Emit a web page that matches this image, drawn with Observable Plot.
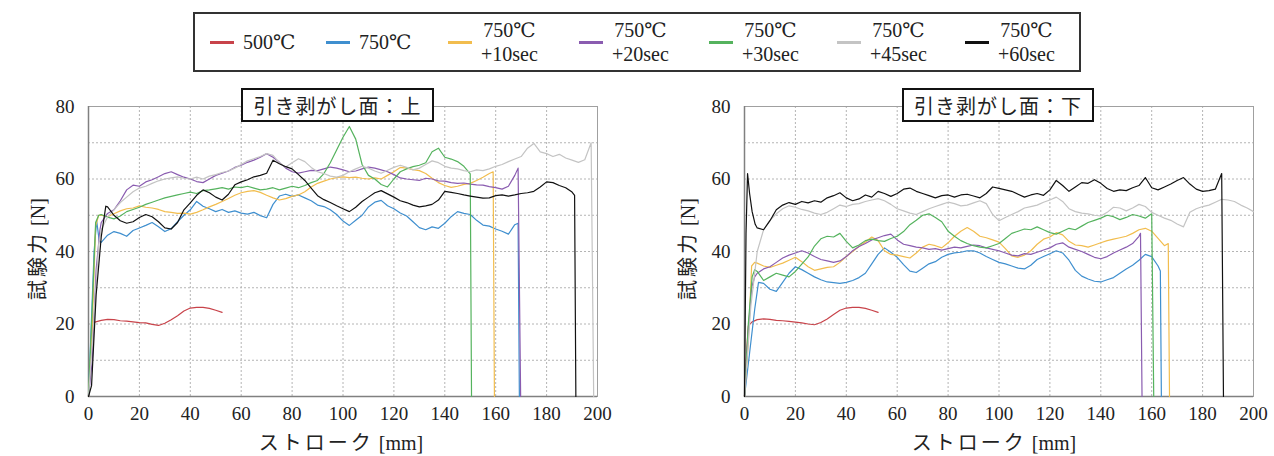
<!DOCTYPE html>
<html><head><meta charset="utf-8">
<script src="https://cdn.jsdelivr.net/npm/d3@7"></script>
<script src="https://cdn.jsdelivr.net/npm/@observablehq/plot@0.6"></script>
<style>
body{margin:0;background:#fff;}
#wrap{position:relative;width:1274px;height:456px;overflow:hidden;background:#fff;}
.panel{position:absolute;top:80px;}
.panel svg text{font-family:"Liberation Serif","Times New Roman","DejaVu Serif",serif;}
.legend{position:absolute;left:193px;top:12px;width:884px;height:56px;border:2px solid #333;background:#fff;
  font-family:"Liberation Serif","Times New Roman","DejaVu Serif",serif;font-size:20px;color:#222;}
.item{position:absolute;top:0;height:56px;display:flex;align-items:center;}
.sw{width:24px;height:3px;margin-right:9px;}
.lab{line-height:24px;text-align:center;}
.tbox{position:absolute;top:88px;height:30px;border:2px solid #111;background:#fff;
  font-family:"Noto Sans CJK JP",sans-serif;font-size:20px;letter-spacing:1px;color:#222;
  display:flex;align-items:center;justify-content:center;}
.xlab{position:absolute;top:431px;line-height:22px;transform:translateX(-50%);white-space:nowrap;font-size:20px;color:#222;}
.ylab{position:absolute;top:249px;line-height:22px;transform:translate(-50%,-50%) rotate(-90deg);white-space:nowrap;font-size:20px;color:#222;}
.jp{font-family:"Noto Sans CJK JP",sans-serif;letter-spacing:3px;}
.en{font-family:"Liberation Serif","Times New Roman","DejaVu Serif",serif;}
</style></head><body><div id="wrap"></div>
<script>
// ---- labels ----
const seriesNames = ["500℃","750℃","750℃ +10sec","750℃ +20sec","750℃ +30sec","750℃ +45sec","750℃ +60sec"];
const legendLine1 = ["500℃","750℃","750℃","750℃","750℃","750℃","750℃"];
const legendLine2 = ["","","+10sec","+20sec","+30sec","+45sec","+60sec"];
const seriesColors = ["#c8434a","#3f8fcf","#f2bd4e","#8a5cb0","#55b35e","#c4c4c4","#111111"];
const panelTitles = ["引き剥がし面：上","引き剥がし面：下"];
const xTicks = [0,20,40,60,80,100,120,140,160,180,200];
const yTicks = [0,20,40,60,80];
const xGrid = [20,40,60,80,100,120,140,160,180];
const yGrid = [10,20,30,40,50,60,70];

// shared stroke grid (mm)
const X = [5,7.5,10,12.5,15,17.5,20,22.5,25,27.5,30,32.5,35,37.5,40,42.5,45,47.5,50,52.5,55,57.5,60,62.5,65,67.5,70,72.5,75,77.5,80,82.5,85,87.5,90,92.5,95,97.5,100,102.5,105,107.5,110,112.5,115,117.5,120,122.5,125,127.5,130,132.5,135,137.5,140,142.5,145,147.5,150,152.5,155,157.5,160,162.5,165,167.5,170,172.5,175,177.5,180,182.5,185,187.5,190,192.5,195,197.5,200];

// ===== 引き剥がし面：上 =====
const up500Head = [[0,0],[1.5,19.5],[2.5,20.5]];
const up500 = [21.0,21.3,21.2,20.9,20.8,20.6,20.4,20.3, 19.9,19.6,20.2,21.2,22.3,23.6,24.4,24.6, 24.6,24.3,23.8,23.2];
const up500Tail = [];

const up750Head = [[0,0],[2.2,40],[3.2,48.5],[4.2,43]];
const up750 = [42.5,44.5,45.5,45.0,44.2,45.8,46.5,47.2, 48.0,46.8,45.5,46.3,48.2,50.0,51.5,53.8, 52.5,51.8,51.0,51.6,50.8,51.2,50.6,50.3,
  50.8,49.9,49.3,53.0,55.3,55.8,55.2,55.6, 54.8,54.0,52.8,52.4,51.5,50.2,48.4,47.2, 48.6,50.0,52.3,53.6,54.1,52.6,51.8,50.6,
  49.8,48.2,46.6,46.0,46.8,46.4,47.8,49.6, 51.0,50.5,50.2,48.6,47.3,47.0,46.2,45.6, 44.8,47.4];
const up750Tail = [[168.8,47.8],[169.3,0]];

const up10Head = [[0,0],[1.5,20],[2.8,47],[4,50]];
const up10 = [50.0,49.6,50.4,51.2,51.8,52.0,52.6,52.2, 52.0,51.6,51.0,50.8,50.5,50.6,50.3,50.8, 51.5,52.3,53.0,53.8,54.6,55.5,56.2,56.6,
  56.8,56.3,55.5,54.8,54.2,54.6,55.2,55.6, 56.5,57.8,58.8,59.4,60.0,60.4,60.6,60.4, 60.5,60.2,60.0,60.3,60.0,61.0,62.0,63.2,
  63.0,62.6,62.3,61.5,60.2,59.0,58.2,57.7, 58.0,58.5,58.8,59.6,60.5,61.5];
const up10Tail = [[159,62],[159.5,0]];

const up20Head = [[0,0],[1.5,10],[3,35],[4.5,46]];
const up20 = [48.0,50.5,51.5,54.0,57.0,58.3,58.0,59.2, 59.8,60.6,61.5,62.0,61.2,60.5,60.0,59.3, 59.0,60.0,61.0,61.6,62.2,63.2,63.8,64.6,
  65.2,66.0,67.0,66.0,64.6,63.0,62.0,61.6, 62.0,62.4,62.3,62.8,63.3,63.0,62.5,62.0, 62.2,62.8,63.3,63.0,62.5,62.0,61.2,60.3,
  60.0,59.8,59.6,60.2,60.0,59.5,59.4,59.0, 58.8,58.9,58.6,58.4,58.3,57.9,57.6,57.2, 58.0,61.0];
const up20Tail = [[168.8,63.0],[169.8,0]];

const up30Head = [[0,0],[1.5,25],[2.8,48],[4,50]];
const up30 = [50.2,49.5,49.0,49.8,51.0,51.6,52.2,53.0, 53.6,54.2,54.8,55.2,55.6,56.0,56.4,56.0, 56.8,57.0,57.3,57.6,57.2,57.8,57.6,58.0,
  57.5,57.0,57.2,57.6,57.0,57.5,58.0,57.6, 58.2,59.0,59.6,61.5,64.5,68.0,71.5,74.5, 71.0,64.0,61.0,60.0,58.5,57.8,60.0,62.0,
  62.8,63.4,63.8,64.5,67.5,68.5,66.0,65.5, 64.8,63.5,61.4];
const up30Tail = [[150.5,0]];

const up45Head = [[0,0],[2,20],[4,42]];
const up45 = [46.0,49.5,51.5,53.5,55.0,56.5,57.5,58.0, 58.8,59.5,60.0,60.3,60.6,60.2,60.0,60.5, 60.0,60.8,61.2,61.8,62.2,63.0,64.0,65.0,
  65.6,66.2,67.0,66.5,64.5,63.3,64.5,65.6, 64.8,63.2,62.0,61.5,60.8,60.5,61.0,62.0, 62.8,63.5,63.0,62.2,61.6,62.4,63.2,63.8,
  63.2,62.5,63.0,64.0,65.0,64.5,63.5,63.0, 62.8,62.3,62.0,62.5,62.3,62.8,63.5,64.0, 64.8,65.5,66.2,68.5,69.8,67.5,67.0,66.2,
  66.8,65.8,65.2,64.6,65.3,70.0];
const up45Tail = [[198.5,0]];

const up60Head = [[0,0],[1.2,3],[3,28],[5,44],[6.8,52.5]];
const up60 = [null,52.3,50.0,48.5,47.8,48.2,49.4,50.2, 49.6,48.2,46.5,46.2,48.0,51.5,53.4,55.5, 57.0,56.2,55.0,54.2,55.8,58.4,59.2,59.8,
  60.6,61.0,61.6,65.2,64.2,63.4,62.8,61.2, 59.6,57.5,55.4,54.3,53.5,52.6,51.8,51.0, 52.2,53.8,55.0,56.2,56.8,55.9,55.0,54.0,
  53.5,52.8,52.3,52.6,53.0,54.2,56.6,56.3, 56.0,55.6,55.3,55.0,54.7,54.8,55.4,55.6, 55.3,55.6,56.0,56.2,56.6,57.8,59.2,59.0,
  58.2,57.6,56.4];
const up60Tail = [[191,55.5],[191.5,0]];

// ===== 引き剥がし面：下 =====
const dn500Head = [[0,0],[0.8,12],[1.5,19.5],[3,20.6]];
const dn500 = [21.2,21.4,21.3,21.0,20.9,20.7,20.5,20.3, 20.0,19.8,20.4,21.4,22.6,23.8,24.4,24.6, 24.6,24.3,23.8,23.2];
const dn500Tail = [];

const dn750Head = [[0,0],[2,12],[4,24],[5.5,31.5]];
const dn750 = [null,31.2,29.6,29.0,31.5,34.0,35.8,35.0, 34.0,33.0,32.2,31.6,31.4,31.2,31.5,32.0, 32.8,34.0,36.6,39.2,41.0,39.8,38.4,36.4,
  34.6,34.2,35.4,36.6,37.2,38.4,39.2,39.6, 39.8,40.2,40.2,39.6,38.6,37.8,37.0,36.6, 36.0,35.4,35.2,36.2,37.8,38.6,39.4,40.2,
  39.6,37.6,34.8,33.2,32.4,31.8,31.6,32.2, 32.8,34.0,35.2,36.2,37.6,39.2,38.6,36.0];
const dn750Tail = [[163.4,34.6],[163.8,0]];

const dn10Head = [[0,0],[1.5,15],[2.8,36],[4,37]];
const dn10 = [36.8,36.0,35.6,36.2,36.8,37.6,38.4,37.2, 35.8,34.8,35.2,35.6,35.8,37.0,38.6,40.0, 41.4,42.6,44.0,43.0,40.2,39.2,39.0,38.6,
  38.2,39.6,41.2,42.0,41.6,41.0,42.4,44.2, 45.6,46.6,45.6,44.2,43.8,43.2,42.6,40.8, 38.8,38.4,39.0,40.2,42.0,43.4,44.0,45.2,
  44.6,42.8,41.8,41.6,41.2,41.8,42.4,43.0, 43.4,43.8,44.2,45.0,46.0,46.4,45.6,43.6, 41.6];
const dn10Tail = [[166.5,42.2],[167,0]];

const dn20Head = [[0,0],[1.5,18],[2.8,30],[4,33]];
const dn20 = [34.0,35.2,35.8,37.0,38.2,39.0,39.6,40.2, 39.6,38.6,37.8,37.4,37.0,37.4,38.6,40.2, 41.4,42.2,43.2,43.8,44.4,44.8,43.2,42.0,
  41.6,41.2,41.0,40.6,40.8,40.4,40.8,41.2, 41.0,41.4,41.8,41.6,41.0,40.6,40.2,39.6, 39.0,38.8,39.4,39.2,39.8,40.4,41.0,42.0,
  42.4,41.2,40.6,40.0,39.2,38.4,38.0,38.6, 39.6,40.4,41.2,42.2,44.2];
const dn20Tail = [[155.6,45.0],[156.2,0]];

const dn30Head = [[0,0],[1.5,20],[3,33],[4,35]];
const dn30 = [34.5,32.0,33.0,34.0,33.5,33.0,34.5,36.5, 38.5,41.5,43.5,44.2,44.0,45.0,42.8,41.0, 41.8,43.0,43.4,43.0,42.8,43.6,44.2,45.5,
  47.4,48.6,50.0,50.4,49.4,48.2,45.6,44.2, 43.0,42.2,41.6,41.2,41.0,41.6,42.2,43.6, 45.0,45.6,46.2,46.0,46.8,46.0,45.2,44.8,
  45.6,46.4,46.0,47.0,48.0,48.6,49.2,50.0, 49.6,48.8,49.4,50.2,49.8,49.2,50.4];
const dn30Tail = [[160.8,0]];

const dn45Head = [[0,0],[2.5,25],[5,40],[7.5,46]];
const dn45 = [null,null,48.6,50.4,51.8,52.6,52.2,51.6, 51.2,50.6,50.2,50.8,51.8,52.8,52.4,53.0, 53.2,53.8,54.2,54.6,54.0,53.0,51.8,51.2,
  50.6,50.2,51.0,51.8,52.4,53.0,53.6,53.2, 52.6,52.8,53.4,54.0,53.2,50.2,48.5,49.4, 50.2,51.0,52.0,52.4,52.8,53.6,54.2,55.0,
  53.8,51.8,51.0,50.6,50.4,50.0,49.8,50.8, 52.2,52.0,51.2,52.0,53.0,52.4,50.8,50.0, 49.2,48.6,47.6,46.8,50.8,51.8,52.4,52.8,
  53.6,54.4,54.2,53.8,52.8,52.0,51.0];
const dn45Tail = [];

const dn60Head = [[0,0],[0.6,45],[1.2,61.5],[2,56],[3,51],[4.2,47.5]];
const dn60 = [46.5,46.0,48.5,51.5,52.8,53.5,53.0,53.8, 53.4,54.0,53.6,54.8,55.4,56.2,54.8,54.0, 54.5,55.6,55.0,56.6,56.0,55.2,56.0,57.2,
  57.5,56.6,56.0,55.4,54.8,55.4,55.6,55.0, 55.6,55.8,55.3,54.8,56.0,57.8,57.4,57.0, 56.6,55.8,55.0,55.6,56.0,55.5,57.0,59.6,
  58.2,56.6,57.8,59.0,58.8,59.8,58.8,57.4, 56.6,57.0,56.8,57.6,58.2,60.4,57.6,57.0, 57.8,58.6,59.6,60.4,58.6,57.2,56.6,56.8,
  57.2,61.5];
const dn60Tail = [[188.2,0]];

// ---- build ----
function build(name, head, ys, tail) {
  const pts = head.map(([x, y]) => ({s: name, x, y}));
  ys.forEach((y, i) => { if (y != null) pts.push({s: name, x: X[i], y}); });
  tail.forEach(([x, y]) => pts.push({s: name, x, y}));
  return pts;
}
const upData = [
  build(seriesNames[0], up500Head, up500, up500Tail),
  build(seriesNames[1], up750Head, up750, up750Tail),
  build(seriesNames[2], up10Head, up10, up10Tail),
  build(seriesNames[3], up20Head, up20, up20Tail),
  build(seriesNames[4], up30Head, up30, up30Tail),
  build(seriesNames[5], up45Head, up45, up45Tail),
  build(seriesNames[6], up60Head, up60, up60Tail)
].flat();
const dnData = [
  build(seriesNames[0], dn500Head, dn500, dn500Tail),
  build(seriesNames[1], dn750Head, dn750, dn750Tail),
  build(seriesNames[2], dn10Head, dn10, dn10Tail),
  build(seriesNames[3], dn20Head, dn20, dn20Tail),
  build(seriesNames[4], dn30Head, dn30, dn30Tail),
  build(seriesNames[5], dn45Head, dn45, dn45Tail),
  build(seriesNames[6], dn60Head, dn60, dn60Tail)
].flat();

const serif = '"Liberation Serif", "Times New Roman", "DejaVu Serif", serif';
function panel(data, marginLeft, marginRight) {
  return Plot.plot({
    width: 637, height: 376,
    marginLeft, marginRight, marginTop: 26, marginBottom: 60,
    style: {fontFamily: serif, fontSize: "19px", color: "#222", background: "#fff", overflow: "visible"},
    x: {domain: [0, 200], label: null},
    y: {domain: [0, 80], label: null},
    color: {domain: seriesNames, range: seriesColors},
    marks: [
      Plot.gridX(xGrid, {stroke: "#b4b4b4", strokeOpacity: 1, strokeDasharray: "2,2"}),
      Plot.gridY(yGrid, {stroke: "#b4b4b4", strokeOpacity: 1, strokeDasharray: "2,2"}),
      Plot.frame({stroke: "#a0a0a0"}),
      Plot.ruleX([0], {stroke: "#808080", strokeWidth: 1.5}),
      Plot.ruleY([0], {stroke: "#808080", strokeWidth: 1.5}),
      Plot.line(data, {x: "x", y: "y", z: "s", stroke: "s", strokeWidth: 1.2}),
      Plot.axisX(xTicks, {tickSize: 0, tickPadding: 10, fontSize: 19, fontFamily: serif}),
      Plot.axisY(yTicks, {tickSize: 0, tickPadding: 14, fontSize: 19, fontFamily: serif})
    ]
  });
}

const wrap = d3.select("#wrap");
const left = panel(upData, 88, 40);
const right = panel(dnData, 107, 21);
wrap.append("div").attr("class", "panel").style("left", "0px").node().appendChild(left);
wrap.append("div").attr("class", "panel").style("left", "637px").node().appendChild(right);

// legend
const lg = wrap.append("div").attr("class", "legend");
const itemLeft = [15, 131, 253, 384, 514, 642, 770];
seriesNames.forEach((n, i) => {
  const it = lg.append("div").attr("class", "item").style("left", itemLeft[i] + "px");
  it.append("div").attr("class", "sw").style("background", seriesColors[i]);
  const lab = it.append("div").attr("class", "lab");
  lab.append("div").text(legendLine1[i]);
  if (legendLine2[i]) lab.append("div").text(legendLine2[i]);
});

// panel titles
[[241, 193], [902, 192]].forEach(([l, w], i) => {
  wrap.append("div").attr("class", "tbox").style("left", l + "px").style("width", (w - 4) + "px").text(panelTitles[i]);
});

// axis labels
[341, 994].forEach(cx => {
  const d = wrap.append("div").attr("class", "xlab").style("left", cx + "px");
  d.append("span").attr("class", "jp").text("ストローク");
  d.append("span").attr("class", "en").text(" [mm]");
});
[37, 687].forEach(cx => {
  const d = wrap.append("div").attr("class", "ylab").style("left", cx + "px");
  d.append("span").attr("class", "jp").text("試験力");
  d.append("span").attr("class", "en").text(" [N]");
});
</script></body></html>
